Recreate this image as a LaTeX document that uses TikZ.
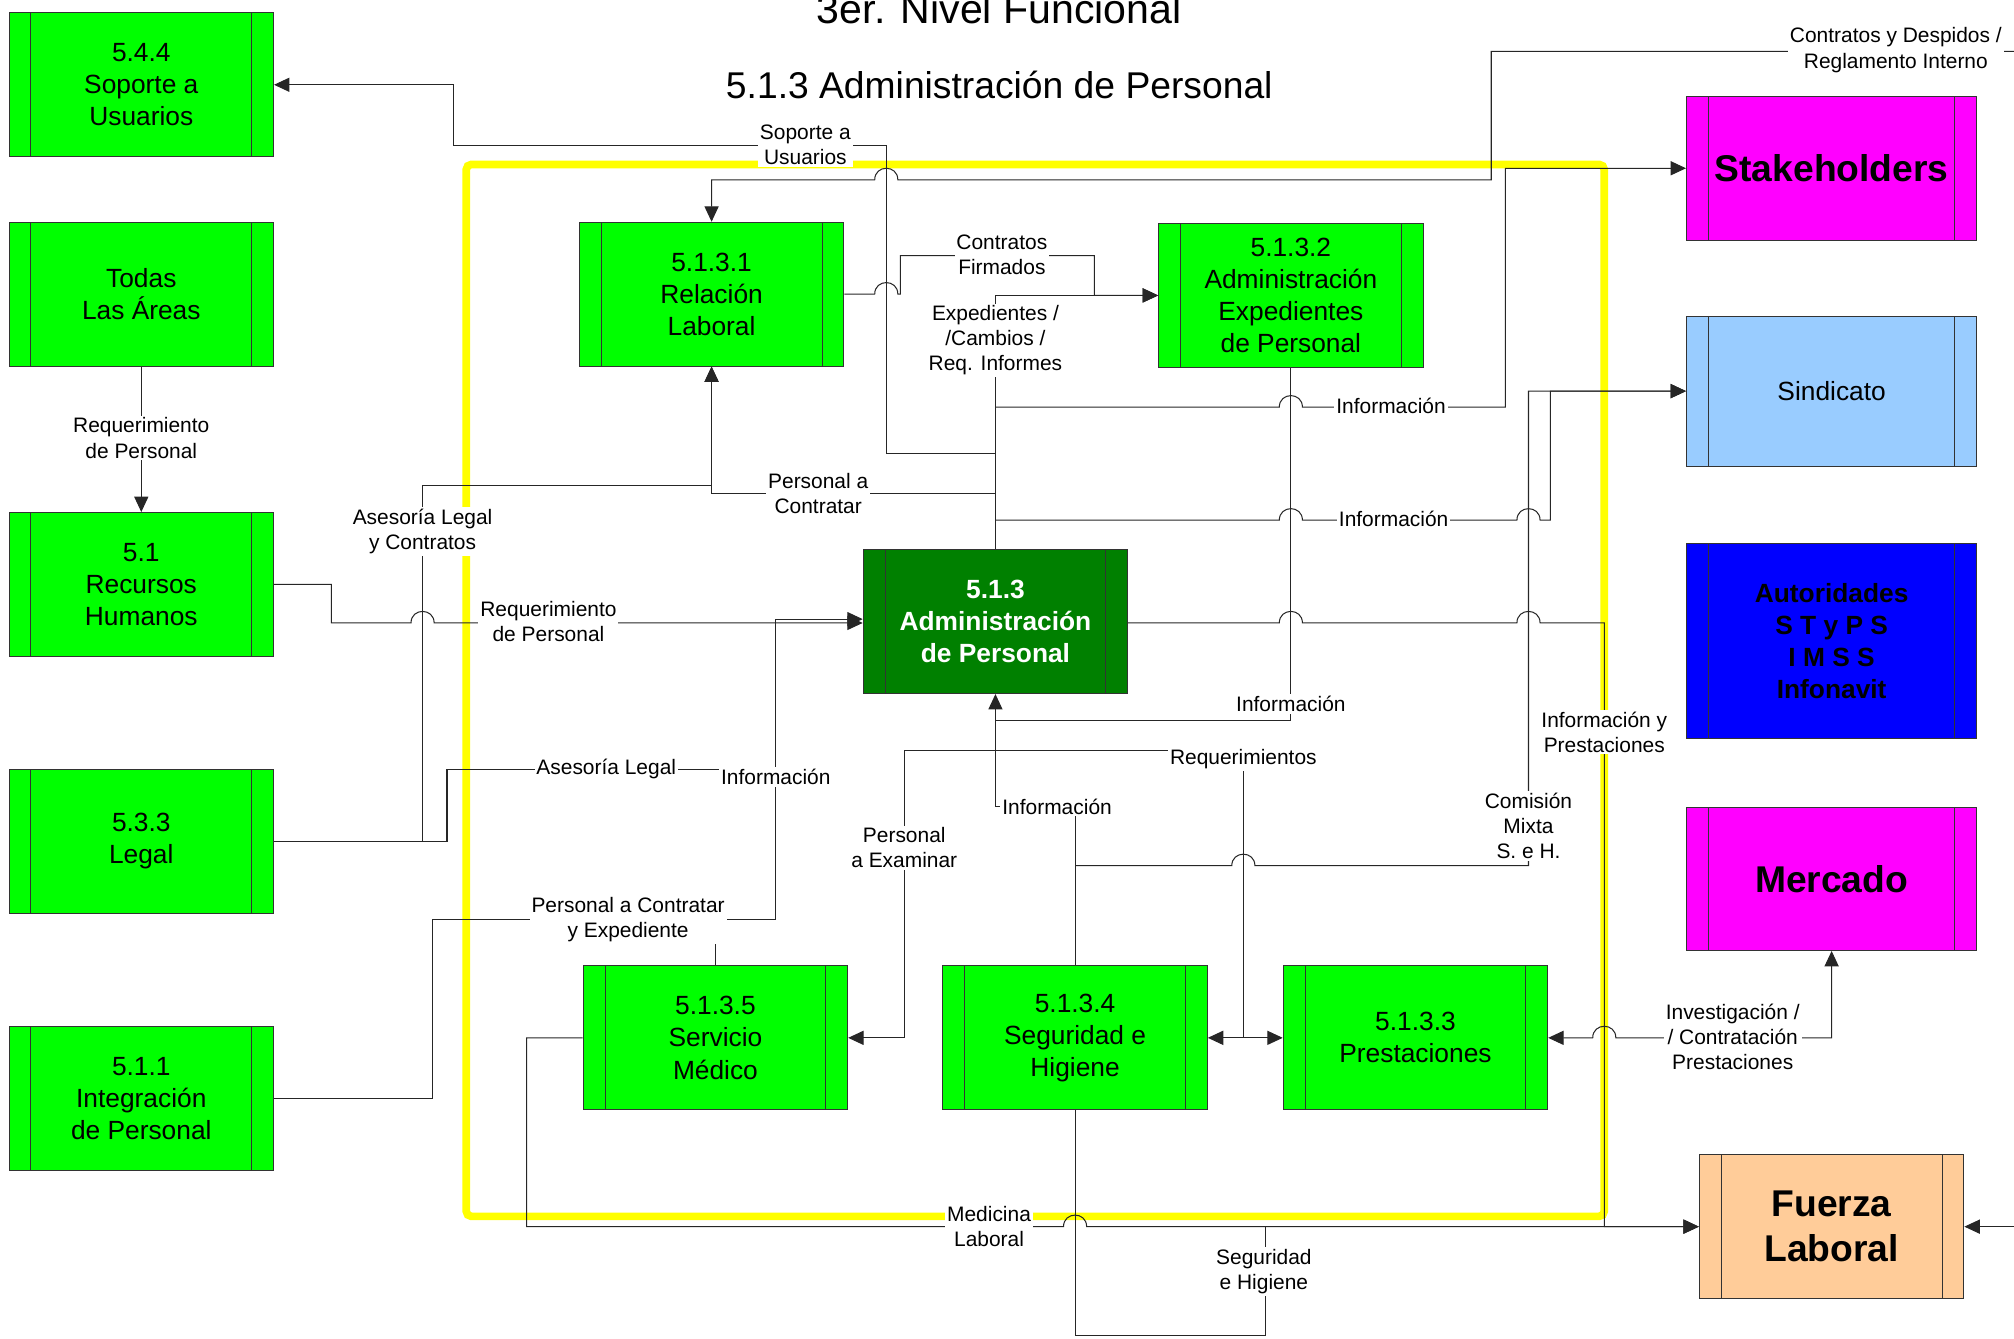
\documentclass[tikz,border=0pt]{standalone}
\usepackage{fontspec}
\setmainfont{Liberation Sans}
\usetikzlibrary{arrows.meta}
\definecolor{verde}{HTML}{00FF00}
\definecolor{verdeOsc}{HTML}{008000}
\definecolor{rosa}{HTML}{FF00FF}
\definecolor{celeste}{HTML}{99CCFF}
\definecolor{azul}{HTML}{0000FF}
\definecolor{durazno}{HTML}{FFCC99}
\definecolor{amarillo}{HTML}{FFFF00}

\begin{document}
\begin{tikzpicture}[x=1pt,y=-1pt,
  box/.style={shape=rectangle,draw=black!80,line width=0.7pt,minimum width=206pt,minimum height=112pt,inner sep=0pt,align=center,font=\fontsize{20.5}{25}\selectfont,
    path picture={\draw[black!80,line width=0.7pt] ([xshift=17pt]path picture bounding box.north west) -- ([xshift=17pt]path picture bounding box.south west) ([xshift=-17pt]path picture bounding box.north east) -- ([xshift=-17pt]path picture bounding box.south east);}},
  boxG/.style={box,fill=verde},
  boxD/.style={box,fill=verdeOsc,text=white,font=\fontsize{20.5}{25}\selectfont\bfseries},
  boxE/.style={box,minimum width=226pt},
  boxB/.style={font=\fontsize{29}{35}\selectfont\bfseries},
  flow/.style={draw=black!85,line width=0.8pt},
  arr/.style={flow,-{Triangle[length=12pt,width=11pt]}},
  arrb/.style={flow,{Triangle[length=12pt,width=11pt]}-{Triangle[length=12pt,width=11pt]}},
  lbl/.style={fill=white,inner sep=1.5pt,align=center,font=\fontsize{16.3}{19.5}\selectfont}]

\useasboundingbox (0,0) rectangle (1568,1042);

% marco del nivel
\draw[amarillo,line width=6pt,rounded corners=4pt] (363,128) rectangle (1249,947);

\node[font=\fontsize{32}{38}\selectfont,anchor=base] (tNivel) at (778,18) {3er. Nivel Funcional};
\node[font=\fontsize{29}{34}\selectfont] (tTitulo) at (778,66) {5.1.3 Administración de Personal};

% procesos
\node[boxG] (B544) at (110,66) {5.4.4\\Soporte a\\Usuarios};
\node[boxG] (BTod) at (110,229) {Todas\\Las Áreas};
\node[boxG] (B51) at (110,455) {5.1\\Recursos\\Humanos};
\node[boxG] (B533) at (110,655) {5.3.3\\Legal};
\node[boxG] (B511) at (110,855) {5.1.1\\Integración\\de Personal};
\node[boxG] (B5131) at (554,229) {5.1.3.1\\Relación\\Laboral};
\node[boxG] (B5132) at (1005,230) {5.1.3.2\\Administración\\Expedientes\\de Personal};
\node[boxD] (B513) at (775,484) {5.1.3\\Administración\\de Personal};
\node[boxG] (B5135) at (557,808) {5.1.3.5\\Servicio\\Médico};
\node[boxG] (B5134) at (837,808) {5.1.3.4\\Seguridad e\\Higiene};
\node[boxG] (B5133) at (1102,808) {5.1.3.3\\Prestaciones};

% entidades externas
\node[boxE,fill=rosa,boxB] (BStk) at (1426,131) {Stakeholders};
\node[boxE,fill=celeste,minimum height=117pt] (BSin) at (1426,304.5) {Sindicato};
\node[boxE,fill=azul,minimum height=152pt,font=\fontsize{20.5}{25}\selectfont\bfseries] (BAut) at (1426,499) {Autoridades\\S T y P S\\I M S S\\Infonavit};
\node[boxE,fill=rosa,minimum height=111pt,boxB] (BMer) at (1426,684.5) {Mercado};
\node[box,fill=durazno,boxB] (BFL) at (1426,955) {Fuerza\\Laboral};

\coordinate (edgeN) at (1575,40);
\coordinate (edgeE) at (1575,955);

% flujos
\draw[arr] (BTod.south) -- (B51.north);
\draw[arr] (B51.east) -- (258,455) -- (258,485) -- (320,485) .. controls (320,473) and (338,473) .. (338,485) -- (B513.west |- 0,485);
\draw[arr] (B511.east) -- (337,855) -- (337,716) -- (604,716) -- (604,482) -- (B513.west |- 0,482);
\draw[flow] (B5135.north) -- (557,716);
\draw[arr] (B533.east) -- (329,655) -- (329,378) -| (B5131.south);
\draw[flow] (B533.east) -- (348,655) -- (348,599) -- (604,599);
\draw[arr] (edgeN) -- (1161,40) -- (1161,140) -- (699,140) .. controls (699,128) and (681,128) .. (681,140) -- (554,140) -- (B5131.north);
\draw[arr] (B5131.east) -- (681,229) .. controls (681,217) and (699,217) .. (699,229) -- (701,229) -- (701,199) -- (852,199) -- (852,230) -- (B5132.west);
\draw[arr] (B513.north) -- (775,230) -- (B5132.west);
\draw[arr] (B513.north |- 0,317) -- (996,317) .. controls (996,305) and (1014,305) .. (1014,317) -- (1172,317) -- (1172,131) -- (BStk.west);
\draw[arr] (B513.north |- 0,353) -- (690,353) -- (690,113) -- (353,113) |- (B544.east);
\draw[arr] (B513.north |- 0,384) -| (B5131.south);
\draw[arr] (B513.north |- 0,405) -- (996,405) .. controls (996,393) and (1014,393) .. (1014,405) -- (1181,405) .. controls (1181,393) and (1199,393) .. (1199,405) -- (1207,405) -- (1207,304.5) -- (BSin.west);
\draw[arr] (B513.east |- 0,485) -- (996,485) .. controls (996,473) and (1014,473) .. (1014,485) -- (1181,485) .. controls (1181,473) and (1199,473) .. (1199,485) -- (1249,485) -- (1249,955) -- (BFL.west);
\draw[flow] (B5132.south) -- (1005,561) -- (775,561);
\draw[arr] (B5134.north) -- (837,628) -- (775,628) -- (B513.south);
\draw[arr] (B5134.north |- 0,674) -- (959,674) .. controls (959,662) and (977,662) .. (977,674) -- (1190,674) |- (BSin.west);
\draw[arr] (B5134.east -| 968,0) -- (968,584) -- (704,584) |- (B5135.east);
\draw[arrb] (B5134.east) -- (B5133.west);
\draw[arrb] (B5133.east) -- (1240,808) .. controls (1240,796) and (1258,796) .. (1258,808) -- (1426,808) -- (BMer.south);
\draw[arr] (B5135.west) -- (410,808) -- (410,955) -- (828,955) .. controls (828,943) and (846,943) .. (846,955) -- (BFL.west);
\draw[flow] (B5134.south) -- (837,1040) -- (985,1040) -- (985,955);
\draw[arr] (edgeE) -- (BFL.east);

% etiquetas
\node[lbl] (lReqA) at (110,341) {Requerimiento\\de Personal};
\node[lbl] (lReqB) at (427,484) {Requerimiento\\de Personal};
\node[lbl] (lSop) at (627,113) {Soporte a\\Usuarios};
\node[lbl] (lCDes) at (1476,39) {Contratos y Despidos /\\Reglamento Interno};
\node[lbl] (lCFir) at (780,198) {Contratos\\Firmados};
\node[lbl] (lExp) at (775,265) {Expedientes /\\/Cambios /\\Req. Informes};
\node[lbl] (lInfA) at (1083,316) {Información};
\node[lbl] (lInfB) at (1085,404) {Información};
\node[lbl] (lPCon) at (637,384) {Personal a\\Contratar};
\node[lbl] (lAseA) at (329,414) {Asesoría Legal\\y Contratos};
\node[lbl] (lAseB) at (472,599) {Asesoría Legal};
\node[lbl] (lInfC) at (604,605) {Información};
\node[lbl] (lPExp) at (489,716) {Personal a Contratar\\y Expediente};
\node[lbl] (lPExa) at (704,660) {Personal\\a Examinar};
\node[lbl] (lInfD) at (823,628) {Información};
\node[lbl] (lReq) at (968,591) {Requerimientos};
\node[lbl] (lInfE) at (1005,548) {Información};
\node[lbl] (lInfP) at (1249,570) {Información y\\Prestaciones};
\node[lbl] (lCom) at (1190,643) {Comisión\\Mixta\\S. e H.};
\node[lbl] (lInv) at (1349,807) {Investigación /\\/ Contratación\\Prestaciones};
\node[lbl] (lMed) at (770,955) {Medicina\\Laboral};
\node[lbl] (lSeg) at (984,990) {Seguridad\\e Higiene};

\end{tikzpicture}
\end{document}
